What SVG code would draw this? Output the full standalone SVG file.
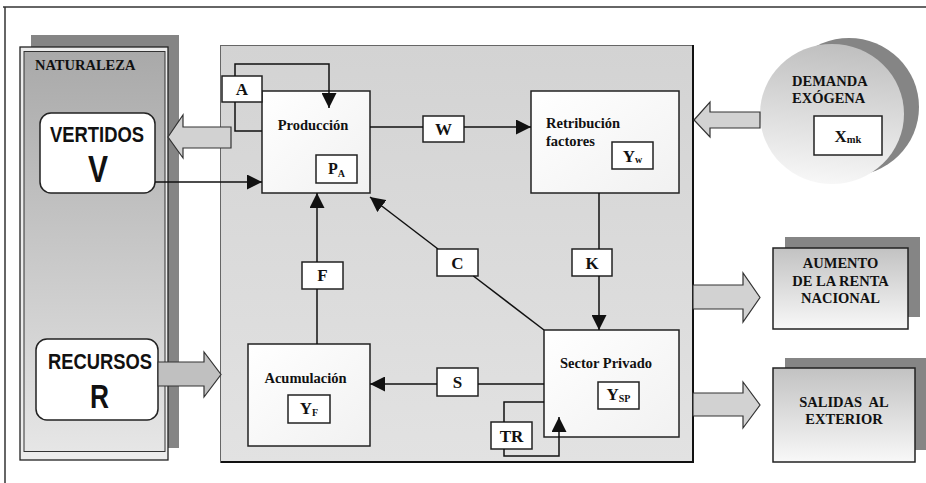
<svg xmlns="http://www.w3.org/2000/svg" width="926" height="483" viewBox="0 0 926 483">
<defs>
<linearGradient id="gNat" x1="0" y1="0" x2="0" y2="1"><stop offset="0" stop-color="#a9a9a9"/><stop offset="1" stop-color="#e6e6e6"/></linearGradient>
<linearGradient id="gPanel" x1="0" y1="0" x2="0" y2="1"><stop offset="0" stop-color="#d3d3d3"/><stop offset="1" stop-color="#e2e2e2"/></linearGradient>
<linearGradient id="gNode" x1="0" y1="0" x2="1" y2="1"><stop offset="0" stop-color="#ffffff"/><stop offset="1" stop-color="#f1f1f1"/></linearGradient>
<linearGradient id="gOut" x1="0" y1="0" x2="0" y2="1"><stop offset="0" stop-color="#c2c2c2"/><stop offset="1" stop-color="#f8f8f8"/></linearGradient>
<linearGradient id="gDem" x1="0.4" y1="0" x2="0.3" y2="1"><stop offset="0" stop-color="#c0c0c0"/><stop offset="1" stop-color="#f8f8f8"/></linearGradient>
<marker id="ah" markerUnits="userSpaceOnUse" markerWidth="15" markerHeight="15" refX="15" refY="7.5" orient="auto"><path d="M0,0 L15,7.5 L0,15 z" fill="#111"/></marker>
</defs>
<style>
.lbl{font-family:"Liberation Serif","Times New Roman",serif;font-weight:bold;fill:#111}
.big{font-family:"Liberation Sans",Arial,sans-serif;font-weight:bold;fill:#111}
.node{fill:url(#gNode);stroke:#222;stroke-width:1.5}
.tag{fill:#fff;stroke:#222;stroke-width:1.5}
.conn{fill:none;stroke:#111;stroke-width:1.5}
.blk{fill:#d2d2d2;stroke:#333;stroke-width:1.2}
.blk2{fill:#c0c0c0;stroke:#333;stroke-width:1.2}
.shadow{fill:#858585}
</style>

<!-- frame -->
<g id="frame" fill="none" stroke="#333" stroke-width="1.5">
<line x1="3" y1="7" x2="926" y2="7"/>
<line x1="5" y1="7" x2="5" y2="483"/>
</g>

<!-- Naturaleza panel -->
<g id="naturaleza">
<rect class="shadow" x="31" y="35" width="148" height="413"/>
<rect x="20" y="47" width="148" height="413" fill="#ececec" stroke="#222" stroke-width="1.3"/>
<rect x="24" y="51.5" width="141" height="400" fill="url(#gNat)" stroke="#333" stroke-width="1"/>
<text class="lbl" x="35" y="70" font-size="14.5">NATURALEZA</text>
</g>

<!-- central panel -->
<g id="panel">
<rect x="220.5" y="45.5" width="473" height="417" fill="url(#gPanel)" stroke="#666" stroke-width="1"/>
<polyline points="693,45 693,462 221,462" fill="none" stroke="#111" stroke-width="2"/>
</g>

<!-- Vertidos -->
<g id="vertidos">
<rect x="40" y="113" width="115" height="80" rx="11" fill="#fff" stroke="#222" stroke-width="1.5"/>
<text class="big" x="97" y="142" font-size="22" text-anchor="middle" textLength="94" lengthAdjust="spacingAndGlyphs">VERTIDOS</text>
<text class="big" x="98" y="182" font-size="36" text-anchor="middle" textLength="20" lengthAdjust="spacingAndGlyphs">V</text>
</g>

<!-- Recursos -->
<g id="recursos">
<rect x="36" y="339" width="122" height="81" rx="11" fill="#fff" stroke="#222" stroke-width="1.5"/>
<text class="big" x="100" y="369" font-size="22" text-anchor="middle" textLength="104" lengthAdjust="spacingAndGlyphs">RECURSOS</text>
<text class="big" x="99.5" y="408" font-size="34" text-anchor="middle" textLength="19" lengthAdjust="spacingAndGlyphs">R</text>
</g>

<!-- Produccion -->
<g id="produccion">
<rect class="node" x="262" y="91" width="108" height="102"/>
<text class="lbl" x="313" y="130" font-size="14.5" text-anchor="middle">Producción</text>
<rect class="tag" x="316" y="155" width="41" height="28"/>
<text class="lbl" x="336.5" y="174" font-size="16" text-anchor="middle">P<tspan font-size="10" dy="3">A</tspan></text>
</g>

<g id="A"><rect class="tag" x="222" y="76" width="40" height="26"/><text class="lbl" x="242" y="95" font-size="17" text-anchor="middle">A</text></g>
<g id="W"><rect class="tag" x="423" y="116" width="41" height="26"/><text class="lbl" x="443.5" y="135" font-size="17" text-anchor="middle">W</text></g>
<g id="C"><rect class="tag" x="437" y="249" width="41" height="27"/><text class="lbl" x="457.5" y="268.5" font-size="17" text-anchor="middle">C</text></g>
<g id="K"><rect class="tag" x="572" y="249" width="40" height="27"/><text class="lbl" x="592" y="268.5" font-size="17" text-anchor="middle">K</text></g>
<g id="F"><rect class="tag" x="302" y="262" width="41" height="27"/><text class="lbl" x="322.5" y="281" font-size="17" text-anchor="middle">F</text></g>
<g id="S"><rect class="tag" x="437" y="368" width="41" height="28"/><text class="lbl" x="457.5" y="388" font-size="17" text-anchor="middle">S</text></g>
<g id="TR"><rect class="tag" x="491" y="422" width="41" height="27"/><text class="lbl" x="511.5" y="441.5" font-size="17" text-anchor="middle">TR</text></g>

<!-- Retribucion -->
<g id="retribucion">
<rect class="node" x="531" y="91" width="148" height="102"/>
<text class="lbl" x="546" y="128" font-size="14.5">Retribución</text>
<text class="lbl" x="546" y="146" font-size="14.5">factores</text>
<rect class="tag" x="612" y="142" width="41" height="27"/>
<text class="lbl" x="632.5" y="162" font-size="17" text-anchor="middle">Y<tspan font-size="10" dy="1">w</tspan></text>
</g>

<!-- Sector Privado -->
<g id="sector-privado">
<rect class="node" x="544" y="330" width="135" height="107"/>
<text class="lbl" x="606" y="368" font-size="14.5" text-anchor="middle">Sector Privado</text>
<rect class="tag" x="598" y="382" width="41" height="27"/>
<text class="lbl" x="618.5" y="400" font-size="17" text-anchor="middle">Y<tspan font-size="10" dy="2">SP</tspan></text>
</g>

<!-- Acumulacion -->
<g id="acumulacion">
<rect class="node" x="248" y="344" width="122" height="102"/>
<text class="lbl" x="305.5" y="383" font-size="14.5" text-anchor="middle">Acumulación</text>
<rect class="tag" x="288" y="395" width="42" height="28"/>
<text class="lbl" x="309" y="414" font-size="17" text-anchor="middle">Y<tspan font-size="10" dy="2">F</tspan></text>
</g>

<!-- Demanda exogena -->
<g id="demanda">
<ellipse class="shadow" cx="849" cy="107" rx="70" ry="69"/>
<ellipse cx="832" cy="114" rx="72" ry="70" fill="url(#gDem)"/>
<text class="lbl" x="792" y="86" font-size="14.5">DEMANDA</text>
<text class="lbl" x="792" y="103" font-size="14.5">EXÓGENA</text>
<rect class="tag" x="814" y="116" width="68" height="39"/>
<text class="lbl" x="848" y="142" font-size="17" text-anchor="middle">X<tspan font-size="10.5" dy="1">mk</tspan></text>
</g>

<!-- Aumento renta -->
<g id="aumento">
<rect class="shadow" x="785" y="237" width="135" height="80"/>
<rect x="773" y="248" width="135" height="81" fill="url(#gOut)" stroke="#222" stroke-width="1.5"/>
<text class="lbl" x="840.5" y="268" font-size="14.5" text-anchor="middle">AUMENTO</text>
<text class="lbl" x="840.5" y="286" font-size="14.5" text-anchor="middle">DE LA RENTA</text>
<text class="lbl" x="840.5" y="303" font-size="14.5" text-anchor="middle">NACIONAL</text>
</g>

<!-- Salidas -->
<g id="salidas">
<rect class="shadow" x="785" y="358" width="141" height="92"/>
<rect x="773" y="368" width="142" height="94" fill="url(#gOut)" stroke="#222" stroke-width="1.5"/>
<text class="lbl" x="844" y="407" font-size="14.5" text-anchor="middle" xml:space="preserve">SALIDAS  AL</text>
<text class="lbl" x="844" y="424" font-size="14.5" text-anchor="middle">EXTERIOR</text>
</g>

<!-- connectors -->
<g id="connectors">
<path class="conn" d="M235,76 V64 H329 V108" marker-end="url(#ah)"/>
<path class="conn" d="M235,102 V131 H262"/>
<path class="conn" d="M370,127 H423"/>
<path class="conn" d="M464,127 H531" marker-end="url(#ah)"/>
<path class="conn" d="M155,182 H262" marker-end="url(#ah)"/>
<path class="conn" d="M317,344 V289"/>
<path class="conn" d="M317,262 V193" marker-end="url(#ah)"/>
<path class="conn" d="M544,330 L473.4,276"/>
<path class="conn" d="M438,249 L370,197" marker-end="url(#ah)"/>
<path class="conn" d="M599,193 V249"/>
<path class="conn" d="M599,276 V330" marker-end="url(#ah)"/>
<path class="conn" d="M544,384 H478"/>
<path class="conn" d="M437,384 H370" marker-end="url(#ah)"/>
<path class="conn" d="M544,402 H504 V422"/>
<path class="conn" d="M504,449 V456 H559 V417" marker-end="url(#ah)"/>
<polygon class="blk" points="168,137 183,115 183,127 231,127 231,148 183,148 183,158"/>
<polygon class="blk2" points="158,362 204,362 204,352 221,374.5 204,397 204,386 158,386"/>
<polygon class="blk" points="694,120 710,102 710,112 760,112 760,128 710,128 710,137"/>
<polygon class="blk" points="693,285 743,285 743,273 760,297.5 743,322 743,309 693,309"/>
<polygon class="blk" points="693,393 743,393 743,382 760,405 743,428 743,416 693,416"/>
</g>
</svg>
